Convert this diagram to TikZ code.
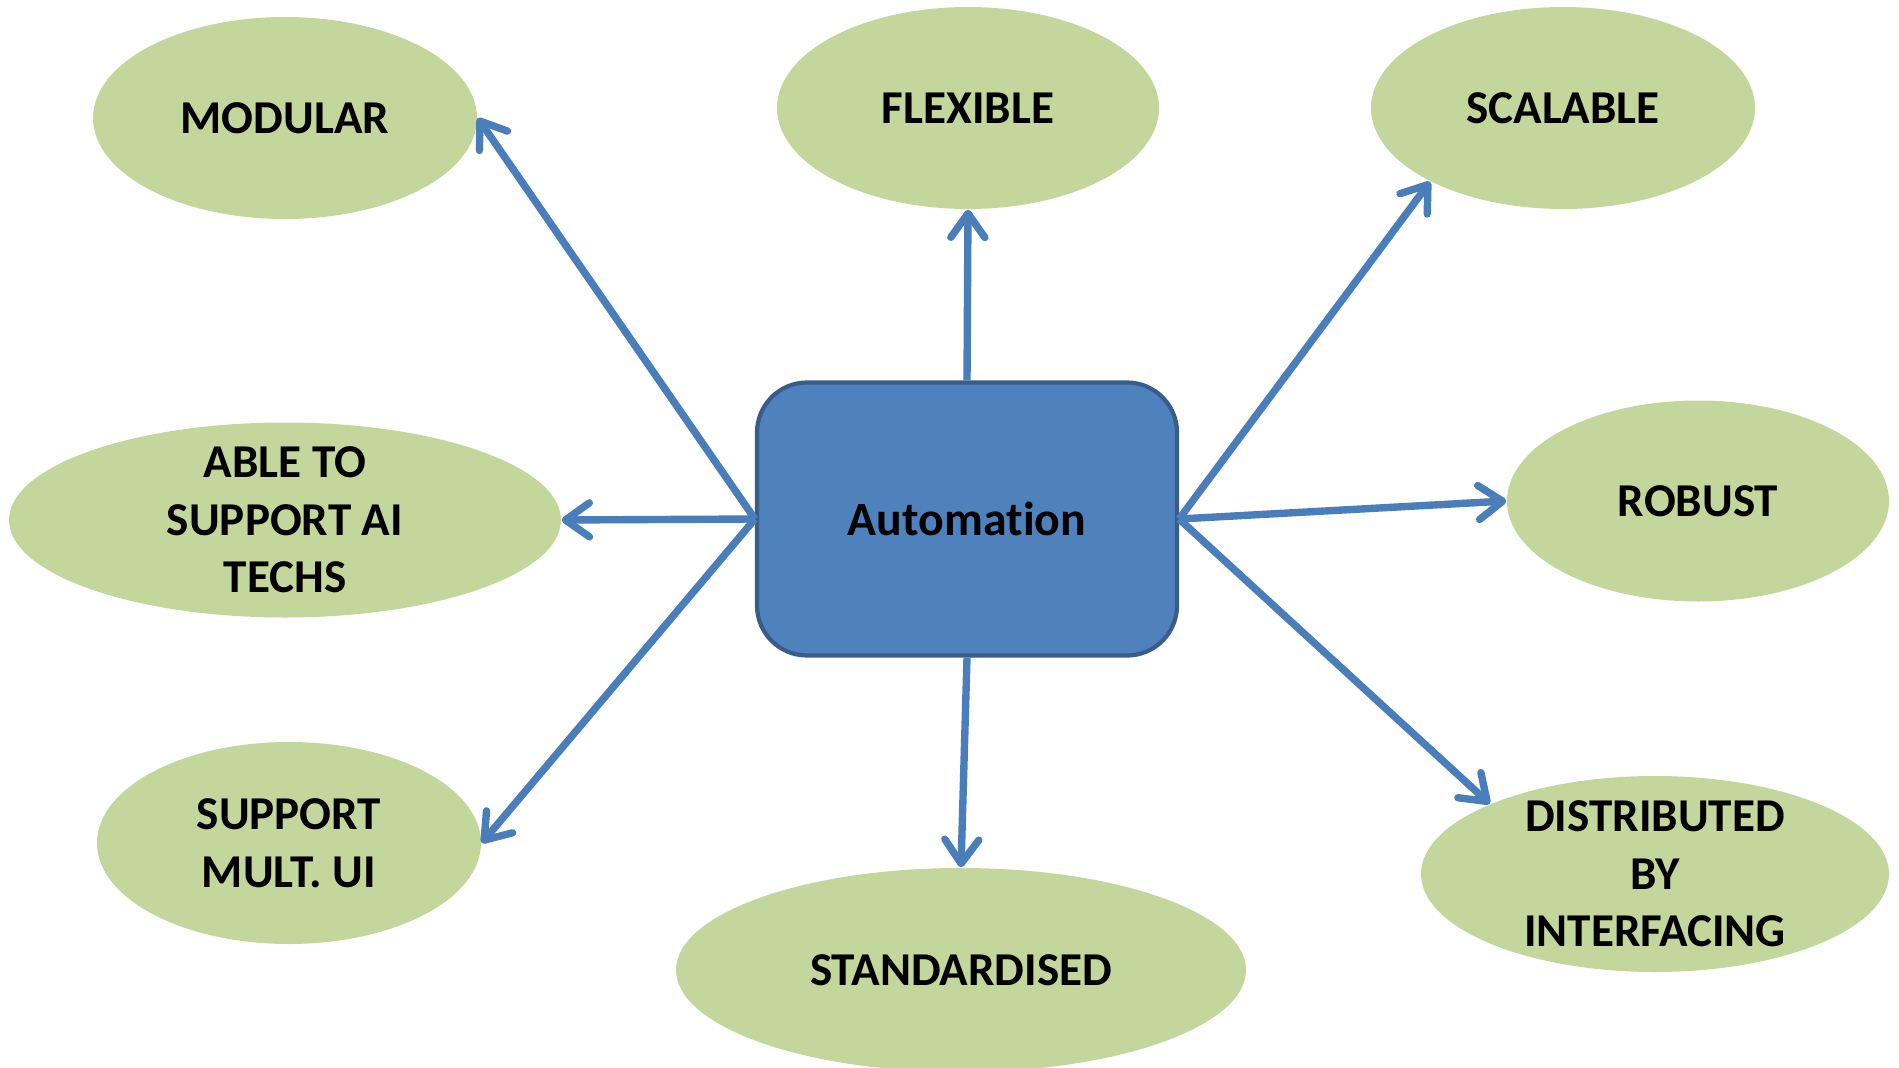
\documentclass[tikz,border=0pt]{standalone}
\usepackage{fontspec}
\setmainfont{Carlito}[Ligatures=NoCommon]
\usetikzlibrary{arrows.meta}
\usetikzlibrary{shapes.geometric}

\definecolor{leafgreen}{HTML}{C3D69B}
\definecolor{boxblue}{HTML}{4F81BD}
\definecolor{boxedge}{HTML}{385D8A}
\definecolor{linkblue}{HTML}{4A7EBB}

\tikzset{
  prop/.style={ellipse, fill=leafgreen, inner xsep=0pt, inner ysep=-3mm,
    align=center, font=\fontsize{13.4}{16.4}\selectfont\bfseries},
  core/.style={rectangle, rounded corners=5mm, draw=boxedge, line width=1.2pt,
    fill=boxblue, minimum width=4.2cm, minimum height=2.73cm,
    font=\fontsize{13.6}{16.4}\selectfont\bfseries},
  link/.style={draw=linkblue, line width=2.1pt,
    -{Straight Barb[round, length=2.4mm, width=3.4mm]}}
}

\begin{document}
\begin{tikzpicture}
      \useasboundingbox (0,0) rectangle (18.99,-10.68);

      \node[core] (auto) at (9.67,-5.19) {Automation};

      % properties round the box
      \node[prop, minimum width=3.84cm, minimum height=2.02cm] (modular) at (2.85,-1.18) {MODULAR};
      \node[prop, minimum width=3.82cm, minimum height=2.02cm] (flexible) at (9.68,-1.08) {FLEXIBLE};
      \node[prop, minimum width=3.84cm, minimum height=2.02cm] (scalable) at (15.63,-1.08) {SCALABLE};
      \node[prop, minimum width=5.52cm, minimum height=1.95cm] (aitechs) at (2.85,-5.20) {ABLE TO\\SUPPORT AI\\TECHS};
      \node[prop, minimum width=3.82cm, minimum height=2.01cm] (robust) at (16.98,-5.01) {ROBUST};
      \node[prop, minimum width=3.84cm, minimum height=2.02cm] (multui) at (2.89,-8.43) {SUPPORT\\MULT. UI};
      \node[prop, minimum width=5.70cm, minimum height=2.04cm] (standard) at (9.61,-9.70) {STANDARDISED};
      \node[prop, minimum width=4.68cm, minimum height=1.96cm] (distrib) at (16.55,-8.74) {DISTRIBUTED\\BY\\INTERFACING};

      \draw[link] (auto.west) -- (modular.east);
      \draw[link] (auto.west) -- (aitechs.east);
      \draw[link] (auto.west) -- (multui.east);
      \draw[link] (auto.north) -- (flexible.south);
      \draw[link] (auto.south) -- (standard.north);
      \draw[link] (auto.east) -- (scalable.209);
      \draw[link] (auto.east) -- (robust.west);
      \draw[link] (auto.east) -- (distrib.157);
\end{tikzpicture}
\end{document}
